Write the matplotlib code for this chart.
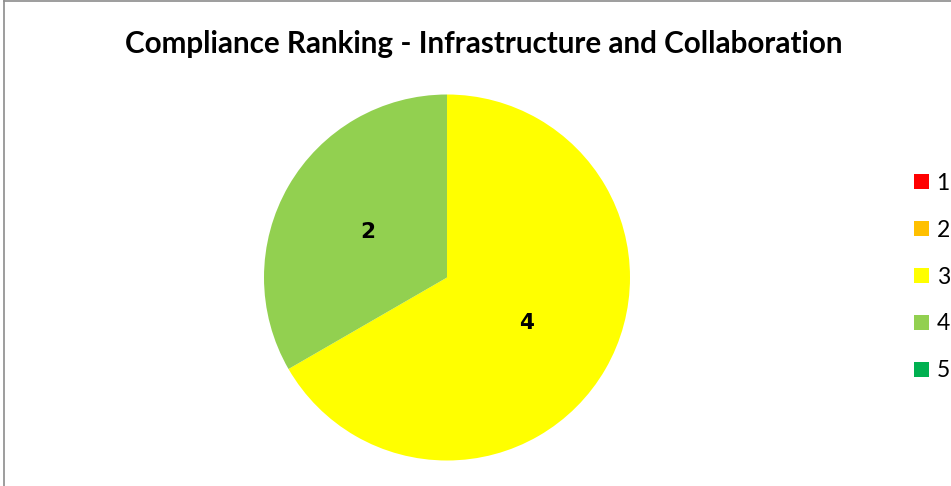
import matplotlib.pyplot as plt
from matplotlib.lines import Line2D
from matplotlib.patches import Patch

categorie = ['1', '2', '3', '4', '5']
valori = [0, 0, 4, 2, 0]
colori = ['#FF0000', '#FFC000', '#FFFF00', '#92D050', '#00B050']
titolo = 'Compliance Ranking - Infrastructure and Collaboration'

W, H = 951, 486
fig = plt.figure(figsize=(W / 100, H / 100), dpi=100)

# bordo grigio (tagliato a destra e in basso come nell'originale)
fig.add_artist(Line2D([3.5 / W, 3.5 / W], [0, 1 - 1.5 / H], transform=fig.transFigure,
                      color='#8c8c8c', linewidth=1.2))
fig.add_artist(Line2D([3.5 / W, 1], [1 - 1.5 / H, 1 - 1.5 / H], transform=fig.transFigure,
                      color='#8c8c8c', linewidth=1.2))

cx, cy, r = 447, 277.5, 183
ax = fig.add_axes([(cx - r) / W, (H - cy - r) / H, 2 * r / W, 2 * r / H])
totale = sum(valori)
wedges, testi, numeri = ax.pie(valori, colors=colori, startangle=90, counterclock=False,
                               autopct=lambda p: f'{round(p * totale / 100)}' if p > 0 else '',
                               pctdistance=0.5, wedgeprops=dict(linewidth=0))
for t in numeri:
    t.set_fontfamily('DejaVu Sans')
    t.set_fontweight('bold')
    t.set_fontsize(15.5)
ax.set_xlim(-1, 1)
ax.set_ylim(-1, 1)
ax.set_aspect('equal')
ax.axis('off')

fig.text(484 / W, 1 - 44 / H, titolo, ha='center', va='center',
         fontsize=21.3, fontweight='bold', family='Lato')

handles = [Patch(facecolor=c, edgecolor='none') for c in colori]
fig.legend(handles, categorie, loc='center left', bbox_to_anchor=(893 / W, 1 - 277 / H),
           frameon=False, handlelength=0.65, handleheight=0.65, handletextpad=0.35,
           labelspacing=1.13, prop=dict(family='Lato', size=16.5))

fig.savefig('out.png', dpi=100)
